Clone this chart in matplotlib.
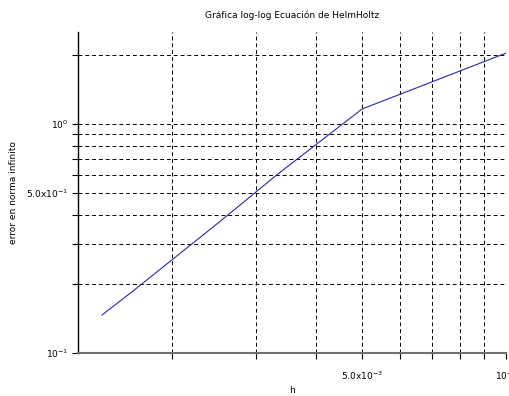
import numpy as np
import matplotlib
matplotlib.use('Agg')
import matplotlib.pyplot as plt
from matplotlib.ticker import FixedLocator, NullFormatter

# Data
h = [1/700, 1/600, 1/500, 1/400, 1/300, 1/200, 1/100]
error = [0.1466, 0.188, 0.255, 0.370, 0.605, 1.163, 2.04]

x_major = [5e-3, 1e-2]
x_major_labels = ['5.0x10$^{-3}$', '10$^{-2}$']
x_minor = [2e-3, 3e-3, 4e-3, 6e-3, 7e-3, 8e-3, 9e-3]
y_major = [0.1, 0.5, 1.0]
y_major_labels = ['10$^{-1}$', '5.0x10$^{-1}$', '10$^{0}$']
y_minor = [0.2, 0.3, 0.4, 0.6, 0.7, 0.8, 0.9, 2.0]

plt.rcParams['mathtext.default'] = 'regular'

fig = plt.figure(figsize=(5.09, 3.96), dpi=100)
ax = fig.add_axes([78/509, 1 - 353/396, (506 - 78)/509, (353 - 32)/396])

ax.plot(h, error, color='#2a2aa0', lw=0.8)
ax.set_xscale('log')
ax.set_yscale('log')
ax.set_xlim(10**(-2 - 428/478), 1e-2)
ax.set_ylim(0.1, 10**(321/229 - 1))

ax.xaxis.set_major_locator(FixedLocator(x_major))
ax.xaxis.set_minor_locator(FixedLocator(x_minor))
ax.set_xticklabels(x_major_labels)
ax.xaxis.set_minor_formatter(NullFormatter())
ax.yaxis.set_major_locator(FixedLocator(y_major))
ax.yaxis.set_minor_locator(FixedLocator(y_minor))
ax.set_yticklabels(y_major_labels)
ax.yaxis.set_minor_formatter(NullFormatter())

ax.grid(True, which='both', color='black', linestyle=(0, (4, 3)), lw=0.7)
ax.tick_params(which='both', direction='out', length=4, width=0.8,
               labelsize=6.5, colors='black')
ax.tick_params(axis='x', pad=8)
ax.tick_params(axis='y', pad=3)

for s in ['top', 'right']:
    ax.spines[s].set_visible(False)
ax.spines['left'].set_color('black')
ax.spines['left'].set_linewidth(1.0)
ax.spines['bottom'].set_color('#707070')
ax.spines['bottom'].set_linewidth(1.5)

ax.set_title('Gráfica log-log Ecuación de HelmHoltz', fontsize=6.5, pad=10)
ax.set_xlabel('h', fontsize=6.5, labelpad=3)
ax.set_ylabel('error en norma infinito', fontsize=6.5, labelpad=6)

fig.savefig('out.png', dpi=100)
